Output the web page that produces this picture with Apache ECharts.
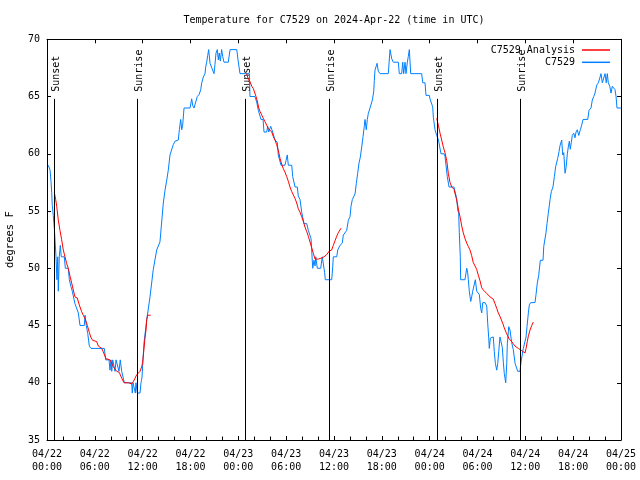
<!DOCTYPE html>
<html><head><meta charset="utf-8">
<script src="https://cdn.jsdelivr.net/npm/echarts@6/dist/echarts.min.js"></script>
<style>html,body{margin:0;padding:0;background:#fff}#c{width:640px;height:480px}</style>
</head><body><div id="c"></div>
<script>
// x axis: hours since 2024-04-22 00:00 UTC
const xTickLabels = ['04/22\n00:00','04/22\n06:00','04/22\n12:00','04/22\n18:00','04/23\n00:00','04/23\n06:00','04/23\n12:00','04/23\n18:00','04/24\n00:00','04/24\n06:00','04/24\n12:00','04/24\n18:00','04/25\n00:00'];

// C7529 observations
const obsTime = [0.16,0.29,0.38,0.50,0.59,0.66,0.79,0.92,1.00,1.13,
1.25,1.34,1.42,1.54,1.67,1.79,2.17,2.30,2.67,2.80,
3.01,3.17,3.39,3.51,3.76,3.93,4.14,4.68,4.77,4.93,
5.11,5.31,5.52,7.19,7.36,7.78,7.90,8.03,8.12,8.24,
8.44,8.53,8.66,8.87,9.03,9.19,9.37,9.62,9.70,10.62,
10.70,10.79,11.00,11.08,11.16,11.25,11.33,11.67,11.79,11.85,
11.92,12.04,12.17,12.51,12.92,13.33,13.76,14.17,14.59,14.80,
15.02,15.22,15.43,15.64,15.84,16.06,16.47,16.60,16.77,16.90,
17.02,17.19,17.94,18.15,18.28,18.44,18.69,18.85,19.10,19.28,
19.41,19.61,19.82,19.91,20.03,20.16,20.28,20.45,20.66,20.95,
21.07,21.20,21.36,21.49,21.61,21.74,21.91,22.04,22.20,22.74,
22.96,23.80,24.00,24.21,24.96,25.38,25.46,26.09,26.31,26.51,
26.72,26.84,27.10,27.22,27.56,27.68,27.81,27.97,28.06,28.31,
28.60,28.89,29.01,29.23,29.35,29.85,29.98,30.14,30.27,30.70,
30.82,31.11,31.40,31.52,31.74,31.95,32.15,32.24,32.58,32.78,
32.99,33.12,33.33,33.49,33.62,33.71,33.91,34.33,34.53,34.75,
34.83,34.91,35.71,35.84,35.91,36.34,36.47,36.75,37.04,37.17,
37.59,37.80,38.01,38.13,38.30,38.47,38.64,38.80,38.97,39.14,
39.30,39.48,39.64,39.80,39.89,40.05,40.18,40.30,40.52,40.73,
40.81,40.98,41.06,41.14,41.27,41.40,41.56,41.77,42.81,43.03,
43.24,43.44,44.07,44.19,44.49,44.62,44.74,44.91,45.03,45.20,
45.32,45.45,45.62,47.00,47.13,47.42,47.54,47.96,48.04,48.26,
48.38,48.46,48.58,48.67,48.88,49.01,49.13,49.30,49.42,49.80,
49.92,50.05,50.21,50.43,51.05,51.18,51.31,51.39,51.52,51.64,
51.72,51.84,51.89,52.43,52.65,52.77,52.85,52.97,53.15,53.27,
53.40,53.60,53.73,53.90,54.23,54.40,54.53,54.66,54.94,55.16,
55.28,55.41,55.48,55.61,55.78,55.98,56.11,56.24,56.41,56.54,
56.66,56.82,56.99,57.11,57.24,57.36,57.54,57.67,57.74,57.92,
58.08,58.29,58.49,58.71,58.92,59.04,59.33,59.46,59.67,59.75,
59.96,60.09,60.21,60.38,60.50,60.68,61.21,61.34,61.50,61.68,
61.88,62.22,62.31,62.47,62.59,62.72,62.88,63.10,63.26,63.47,
63.64,63.81,64.06,64.23,64.35,64.56,64.69,64.82,64.98,65.11,
65.27,65.39,65.52,65.64,65.77,65.89,66.07,66.23,66.36,66.52,
66.70,66.90,67.07,67.24,67.83,67.99,68.24,68.40,68.58,68.74,
68.96,69.16,69.37,69.49,69.66,69.83,70.00,70.15,70.28,70.41,
70.59,70.75,70.91,71.09,71.25,71.38,71.50,72.00];
const obsTemp = [59,59,58.6,57.6,56.6,55.5,54.6,53.5,53.5,51,
49,51,48,51,52,51,51,50,50,49,
48.4,48,48,46.9,46.9,46.1,45,45,45.9,45,
44.3,43.2,43,43,42,42,41.1,42,41,42,
42,41,42,42,41,42,41,41,40,40,
39.1,40,40,39.1,40,40,39.1,39.1,40,40.2,
40.5,42,43.5,45.5,47.5,49.9,51.6,52.3,55.7,56.8,
57.7,58.6,59.9,60,60.8,61.1,61.2,62.1,63,62.1,
62.5,64,64,64.8,64.2,64,64.6,65,65.2,65.6,
66.2,66.7,67,67.6,68,68.6,69.1,67.9,67.8,67,
67.8,68.8,69.1,68.2,68.8,68.1,69.1,68.5,68,68,
69.1,69.1,68,67,67,67,65,65,64.5,63.8,
63.8,63,63,61.9,61.9,62.4,61.9,61.9,62.4,61.9,
61.2,61,59.9,59.9,59,59,59.4,59.9,59,59,
58,57.1,57.1,56.3,56,54.9,54.9,53.9,53.9,53.3,
53.3,52.6,50,50.7,50.2,51,50,50,51,51,
49.6,49,49,50.1,51,51,51.6,52,52.2,52.9,
53.3,54.2,54.5,55.4,56,56.1,56.5,57.4,58.3,59.2,
59.7,60.6,61.5,62.4,63,62.1,63,63.5,64,64,
64.7,65.4,66.4,67.3,67.3,67.9,67.2,67,67,69.1,
68.3,68,68,67,67,68,67,68,67,68,
68.5,69.1,67,67,66.2,66.2,65.1,65.1,64.8,64.8,
64.1,63.2,63.1,62.1,61.6,61.4,61.1,61.1,60,60,
59.8,59,58,57.1,57.1,56.7,56.8,56.1,55.1,54.8,
53.1,51,49,49,50,49.6,49,48,47.1,47.5,
48,48,49,48,47.7,46.5,46.1,47,47,46.7,
45.2,43.9,43,43.9,44,44,42.7,41.7,41.1,41.7,
42.7,44,44,43.1,41.8,40.8,40,41.7,43.4,44.9,
44.6,43.5,42.9,41.7,41.7,41,41,41.8,42.7,43,
43,44,44.9,46.1,46.8,47,47,47.7,48.7,49.4,
50.7,50.7,51.9,52,53.1,53.9,54.8,56,56.7,57.1,
58,58.9,59.6,60.2,60.7,61.2,59.9,60.1,58.3,58.8,
60,60.6,61.1,60.4,61,61.6,61.8,61.4,61.9,62.1,
61.6,62.1,62.5,63,63,63.8,64,64.7,65,65.3,
66,66.2,66.7,67,66.2,66.2,67,66.2,67,66.2,
65.9,65.3,65.9,66,65.6,65,64,64];

// C7529 Analysis, three overnight runs
const ana1Time = [0.92,1.09,1.22,1.42,1.63,1.84,2.04,2.26,2.47,2.67,2.89,3.10,3.30,3.51,3.80,4.05,4.35,4.55,4.77,5.06,5.31,5.48,5.73,6.23,6.44,6.86,7.06,7.40,7.56,7.90,8.32,8.74,9.07,9.37,9.66,10.20,10.62,10.83,11.04,11.25,11.45,11.67,11.88,12.00,12.17,12.29,12.42,12.51,12.63,13.01];
const ana1Temp = [56.6,56,55.4,54.2,53.3,52.5,51.6,51,50.4,50,49.3,48.7,48.1,47.5,47.4,46.8,46.2,45.9,45.6,45,44.4,44,43.7,43.6,43.2,43,42.7,42.1,42,42,41.4,41,40.9,40.4,40,40,39.9,40.1,40.4,40.7,40.8,41,41.4,41.8,43,43.9,44.6,45.5,45.9,45.9];
const ana2Time = [25.05,25.25,25.46,25.68,25.88,26.09,26.22,26.38,26.56,26.72,26.93,27.13,27.35,27.56,27.76,27.97,28.19,28.39,28.60,28.81,29.01,29.23,29.44,29.64,29.85,30.07,30.27,30.48,30.70,30.90,31.11,31.32,31.52,31.74,31.95,32.15,32.36,32.58,32.78,32.99,33.20,33.41,33.62,34.03,34.46,34.75,35.09,35.41,35.71,35.91,36.13,36.34,36.54,36.88];
const ana2Temp = [67,66.5,66.3,65.9,65.7,65.6,65,64.6,64,63.7,63.4,63.1,62.8,62.5,62.2,62.1,61.9,61.5,61.2,60.8,60.3,59.6,59.1,58.7,58.4,58,57.6,57.1,56.7,56.4,56.1,55.7,55.2,54.9,54.5,54.1,53.6,53.2,52.8,52.3,51.8,51.3,50.8,50.8,50.9,51,51.2,51.5,51.6,52,52.4,52.8,53.1,53.5];
const ana3Time = [48.88,49.09,49.30,49.51,49.71,49.92,50.14,50.34,50.55,50.77,51.05,51.34,51.52,51.64,51.81,52.02,52.22,52.43,52.65,52.85,53.06,53.27,53.47,53.69,53.90,54.10,54.32,54.53,54.73,55.16,55.57,55.98,56.20,56.41,56.61,56.82,57.16,57.36,57.58,57.79,57.99,58.29,58.49,58.71,58.92,59.12,59.33,59.55,59.75,59.96,60.09,60.25,60.38,60.59,60.80,61.00];
const ana3Temp = [63.1,62.5,61.8,61.2,60.6,60.1,59.4,58.3,57.5,57.1,56.9,56.1,55.5,55,54.5,53.7,53.1,52.6,52.2,51.9,51.6,51.1,50.5,50.2,49.9,49.4,48.9,48.3,48.1,47.8,47.5,47.3,46.9,46.5,46.1,45.8,45.2,44.8,44.4,44.1,43.8,43.6,43.4,43.2,43.1,43,42.9,42.8,42.7,42.6,43,43.6,44.1,44.6,45,45.3];

// Sunset / sunrise events
const eventTime = [0.92, 11.33, 24.88, 35.41, 48.96, 59.37];
const eventName = ['Sunset','Sunrise','Sunset','Sunrise','Sunset','Sunrise'];
const EVENT_BOTTOM = 35, EVENT_TOP = 64.8, EVENT_LABEL = 65.42;

const FONT = 'DejaVu Sans Mono';
const obsData = obsTime.map((t, i) => [t, obsTemp[i]]);
const anaSegs = [[ana1Time, ana1Temp], [ana2Time, ana2Temp], [ana3Time, ana3Temp]];
const black = '#000';
const axisCommon = {
  axisLine: { show: true, onZero: false, lineStyle: { color: black, width: 1 } },
  splitLine: { show: false }
};

const anaSeries = anaSegs.map(seg => ({
  name: 'C7529 Analysis', type: 'line',
  data: seg[0].map((t, i) => [t, seg[1][i]]), symbol: 'none',
  lineStyle: { color: '#ff0000', width: 1 }, itemStyle: { color: '#ff0000' }, z: 4
}));

const chart = echarts.init(document.getElementById('c'), null, { renderer: 'canvas' });
chart.setOption({
  animation: false,
  backgroundColor: '#fff',
  title: {
    text: 'Temperature for C7529 on 2024-Apr-22 (time in UTC)',
    left: 334, top: 14, padding: 0, textAlign: 'center',
    textStyle: { fontFamily: FONT, fontSize: 10, fontWeight: 'normal', color: black, lineHeight: 12 }
  },
  legend: {
    data: ['C7529 Analysis', 'C7529'],
    orient: 'vertical', right: 30, top: 44, padding: 0,
    align: 'right', itemWidth: 28, itemHeight: 1.5, itemGap: 0.3, icon: 'rect',
    textStyle: { fontFamily: FONT, fontSize: 10, color: black, lineHeight: 12, padding: [0, 2, 0, 0] }
  },
  grid: { left: 47, right: 19, top: 39.3, bottom: 40, containLabel: false, outerBoundsMode: 'none' },
  xAxis: [
    Object.assign({}, axisCommon, {
      type: 'value', min: 0, max: 72, interval: 6, position: 'bottom',
      axisTick: { show: true, inside: true, length: 4, lineStyle: { color: black } },
      minorTick: { show: true, splitNumber: 3, length: 3.5, lineStyle: { color: black } },
      minorSplitLine: { show: false },
      axisLabel: {
        formatter: v => xTickLabels[Math.round(v / 6)],
        fontFamily: FONT, fontSize: 10, color: black, lineHeight: 13, margin: 8,
        showMinLabel: true, showMaxLabel: true
      }
    }),
    Object.assign({}, axisCommon, {
      type: 'value', min: 0, max: 72, interval: 6, position: 'top',
      axisTick: { show: true, inside: true, length: 4, lineStyle: { color: black } },
      axisLabel: { show: false }
    })
  ],
  yAxis: [
    Object.assign({}, axisCommon, {
      type: 'value', min: 35, max: 70, interval: 5, position: 'left',
      name: 'degrees F', nameLocation: 'middle', nameGap: 31, nameRotate: 90,
      nameTextStyle: { fontFamily: FONT, fontSize: 10.5, color: black },
      axisTick: { show: true, inside: true, length: 4, lineStyle: { color: black } },
      axisLabel: { fontFamily: FONT, fontSize: 10, color: black, margin: 7, showMinLabel: true, showMaxLabel: true }
    }),
    Object.assign({}, axisCommon, {
      type: 'value', min: 35, max: 70, interval: 5, position: 'right',
      axisTick: { show: true, inside: true, length: 4, lineStyle: { color: black } },
      axisLabel: { show: false }
    })
  ],
  series: [
    {
      name: 'events', type: 'line', data: [], symbol: 'none', silent: true, z: 1,
      markLine: {
        silent: true, symbol: 'none', animation: false,
        label: { show: false },
        lineStyle: { color: black, width: 1, type: 'solid' },
        data: eventTime.map(t => [{ coord: [t, EVENT_BOTTOM] }, { coord: [t, EVENT_TOP] }])
      }
    },
    {
      name: 'eventLabels', type: 'scatter', symbolSize: 1, silent: true, z: 1,
      data: eventTime.map((t, i) => ({ value: [t, EVENT_LABEL], name: eventName[i] })),
      itemStyle: { color: 'rgba(0,0,0,0)' },
      label: {
        show: true, formatter: p => p.name, position: 'inside', rotate: 90,
        align: 'left', verticalAlign: 'middle', offset: [0, 2],
        fontFamily: FONT, fontSize: 10, color: black, opacity: 1
      }
    },
    {
      name: 'C7529', type: 'line', data: obsData, symbol: 'none',
      lineStyle: { color: '#0080ff', width: 1 }, itemStyle: { color: '#0080ff' }, z: 3
    }
  ].concat(anaSeries)
});
</script></body></html>
